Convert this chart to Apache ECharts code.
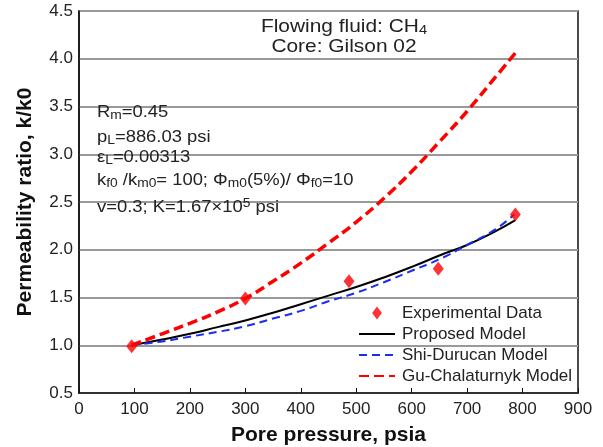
<!DOCTYPE html>
<html><head><meta charset="utf-8">
<script src="https://cdn.jsdelivr.net/npm/echarts@6/dist/echarts.min.js"></script>
<style>html,body{margin:0;padding:0;background:#fff}#c{width:603px;height:447px}</style>
</head><body><div id="c"></div>
<script>
// Data
const expPressure = [95, 300, 487, 648, 787];
const expRatio = [0.99, 1.49, 1.67, 1.80, 2.37];
const proposedPressure = [95,150,200,250,300,350,400,450,500,550,600,650,700,750,787];
const proposedRatio = [1.0,1.06,1.12,1.19,1.26,1.34,1.43,1.52,1.61,1.71,1.82,1.94,2.05,2.19,2.31];
const shiPressure = [95,150,200,250,300,350,400,450,500,550,600,650,700,750,785];
const shiRatio = [1.0,1.04,1.09,1.14,1.20,1.28,1.36,1.46,1.55,1.66,1.78,1.90,2.05,2.21,2.37];
const guPressure = [95,150,200,250,300,350,400,450,500,550,600,650,700,750,787];
const guRatio = [1.0,1.12,1.23,1.35,1.49,1.67,1.86,2.07,2.29,2.54,2.82,3.13,3.45,3.80,4.06];
const xTicks = [0,100,200,300,400,500,600,700,800,900];
const yTicks = [0.5,1.0,1.5,2.0,2.5,3.0,3.5,4.0,4.5];
const seriesNames = ['Experimental Data','Proposed Model','Shi-Durucan Model','Gu-Chalaturnyk Model'];

const pair = (xs, ys) => xs.map((x, i) => [x, ys[i]]);
const FONT = 'Liberation Sans, Arial, Helvetica, sans-serif';
const chart = echarts.init(document.getElementById('c'));
function mkRich(sz) {
  const sub = Math.round(sz * 0.72);
  return {
    s: {fontFamily: FONT, fontSize: sub, fill: '#222', color: '#222', padding: [Math.round(sz*0.42),0,0,0]},
    u: {fontFamily: FONT, fontSize: sub, fill: '#222', color: '#222', padding: [0,0,Math.round(sz*0.42),0]}
  };
}
function label(x, y, t, sz, sx, align) {
  return {type:'text', x: x, y: y, scaleX: sx, z: 10,
    style: {text: t, rich: mkRich(sz), font: sz + 'px ' + FONT, fill:'#222',
            textAlign: align || 'left', textVerticalAlign: 'top'}};
}
const diamondIcon = 'path://M0,-1L0.75,0L0,1L-0.75,0Z';
chart.setOption({
  animation: false,
  grid: {left: 79, right: 25, top: 11, bottom: 54, show: true, borderColor: '#111', borderWidth: 1.5,
         containLabel: false, outerBoundsMode: 'none'},
  xAxis: {
    type: 'value', min: 0, max: 900, interval: 100,
    name: 'Pore pressure, psia', nameLocation: 'middle', nameGap: 32,
    nameTextStyle: {fontFamily: FONT, fontSize: 21, fontWeight: 'bold', color: '#111'},
    axisLine: {onZero: false, lineStyle: {color: '#111', width: 1.5}},
    axisTick: {inside: true, length: 5, lineStyle: {color: '#111'}},
    axisLabel: {fontFamily: FONT, fontSize: 17, color: '#222', margin: 8},
    splitLine: {show: false}
  },
  yAxis: {
    type: 'value', min: 0.5, max: 4.5, interval: 0.5,
    name: 'Permeability ratio, k/k0', nameLocation: 'middle', nameGap: 43,
    nameTextStyle: {fontFamily: FONT, fontSize: 21, fontWeight: 'bold', color: '#111'},
    axisLine: {show: true, lineStyle: {color: '#111', width: 1.5}},
    axisTick: {show: false},
    axisLabel: {fontFamily: FONT, fontSize: 17, color: '#222', margin: 6, formatter: v => v.toFixed(1)},
    splitLine: {show: true, lineStyle: {color: '#999', width: 1.8}}
  },
  legend: {
    orient: 'vertical', left: 358, top: 304.5, itemGap: 4, itemWidth: 36, itemHeight: 13,
    padding: 0, symbolKeepAspect: true,
    textStyle: {fontFamily: FONT, fontSize: 17, color: '#222', padding: [0,0,0,2]},
    data: [
      {name: seriesNames[0], icon: diamondIcon},
      {name: seriesNames[1], itemStyle: {opacity: 0}},
      {name: seriesNames[2], itemStyle: {opacity: 0}},
      {name: seriesNames[3], itemStyle: {opacity: 0}}
    ]
  },
  graphic: [
    label(344, 16, 'Flowing fluid: CH{s|4}', 18.5, 1.13, 'center'),
    label(344, 37.5, 'Core: Gilson 02', 18.5, 1.13, 'center'),
    label(97, 103, 'R{s|m}=0.45', 16, 1.15),
    label(97, 128, 'p{s|L}=886.03 psi', 16, 1.15),
    label(97, 148, 'ε{s|L}=0.00313', 16, 1.15),
    label(97, 171, 'k{s|f0} /k{s|m0}= 100; Φ{s|m0}(5%)/ Φ{s|f0}=10', 16, 1.15),
    label(97, 198, 'v=0.3; K=1.67×10{u|5} psi', 16, 1.15)
  ],
  series: [
    {name: seriesNames[0], type: 'scatter', data: pair(expPressure, expRatio), symbol: diamondIcon, symbolSize: [11, 14], itemStyle: {color: '#f00'}, z: 5},
    {name: seriesNames[1], type: 'line', data: pair(proposedPressure, proposedRatio), smooth: true, showSymbol: false, symbol: 'none', lineStyle: {color: '#000', width: 2}, itemStyle: {color: '#000'}},
    {name: seriesNames[2], type: 'line', data: pair(shiPressure, shiRatio), smooth: true, showSymbol: false, symbol: 'none', lineStyle: {color: '#1a2cf0', width: 2, type: [8, 5]}, itemStyle: {color: '#1a2cf0'}},
    {name: seriesNames[3], type: 'line', data: pair(guPressure, guRatio), smooth: true, showSymbol: false, symbol: 'none', lineStyle: {color: '#f00', width: 3.5, type: [10, 5]}, itemStyle: {color: '#f00'}}
  ]
});
</script></body></html>
